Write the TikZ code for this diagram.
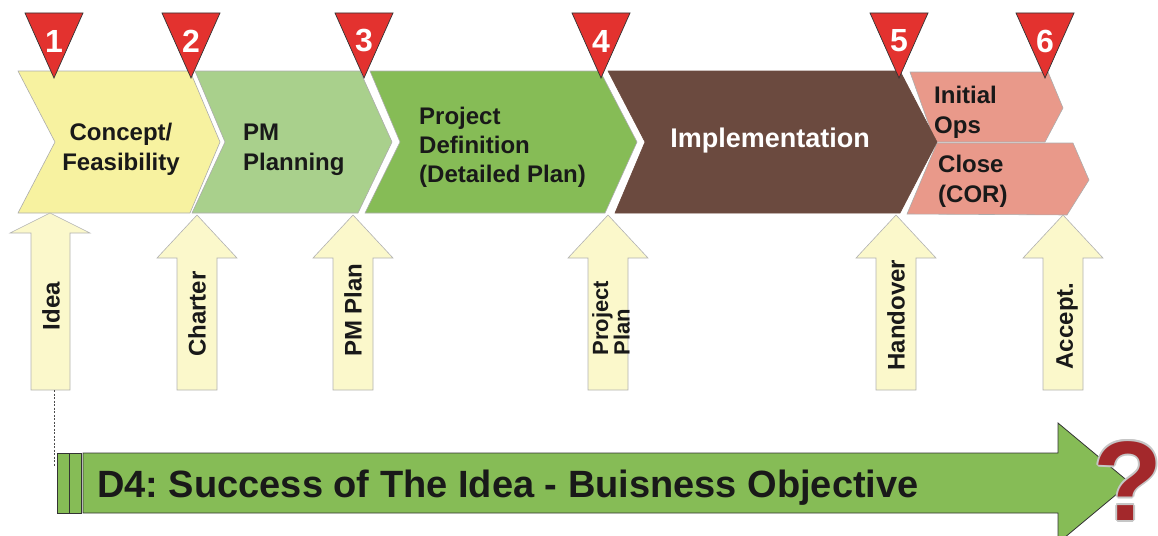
\documentclass[tikz,border=0pt]{standalone}
\usepackage{fontspec}
\setmainfont{Liberation Sans}
\frenchspacing
\definecolor{cyel}{HTML}{F7F2A0}
\definecolor{clgreen}{HTML}{A9D08C}
\definecolor{cgreen}{HTML}{86BC56}
\definecolor{cbrown}{HTML}{6B4A3F}
\definecolor{cpink}{HTML}{E9998A}
\definecolor{tred}{HTML}{E3322F}
\definecolor{ayel}{HTML}{FBF8CB}
\definecolor{qred}{HTML}{A3282B}
\begin{document}
\begin{tikzpicture}[x=1pt,y=-1pt,
  chev/.style={draw=gray!65, line width=0.6pt},
  tri/.style={fill=tred, draw=black!80, line width=0.7pt},
  num/.style={text=white, font=\fontsize{32}{32}\selectfont\bfseries, inner sep=0},
  lbl/.style={font=\fontsize{24}{30}\selectfont\bfseries, inner sep=0, align=left, text=black!90},
  uparrow/.style={fill=ayel, draw=gray!60, line width=0.6pt},
  vlbl/.style={font=\fontsize{24}{24}\selectfont\bfseries, inner sep=0, rotate=90, text=black!90},
  barrow/.style={fill=cgreen, draw=black!80, line width=0.8pt}]
\useasboundingbox (0,0) rectangle (1158,535);
% chevrons
\draw[chev, fill=cpink] (910,72) -- (1048,72) -- (1063,108) -- (1045,142) -- (935,142) -- cycle;
\draw[chev, fill=cpink] (937,143) -- (1073,143) -- (1089,180) -- (1067,215) -- (907,214) -- cycle;
\draw[chev, fill=cyel] (18,71) -- (190,71) -- (220,142) -- (190,213) -- (18,213) -- (55,142) -- cycle;
\draw[chev, fill=clgreen] (195,71) -- (360,71) -- (392,142) -- (358,213) -- (192,213) -- (225,142) -- cycle;
\draw[chev, fill=cgreen] (370,71) -- (600,71) -- (637,142) -- (605,213) -- (365,213) -- (400,142) -- cycle;
\draw[chev, fill=cbrown, draw=cbrown] (608,71) -- (900,71) -- (937,142) -- (900,213) -- (615,213) -- (645,142) -- cycle;
% chevron labels
\node[lbl, align=center] (concept) at (121,149) {Concept/\\Feasibility};
\node[lbl, anchor=west] (pmplan) at (243,150) {PM\\Planning};
\node[lbl, anchor=west, font=\fontsize{24}{29}\selectfont\bfseries] (projdef) at (419,147) {Project\\Definition\\(Detailed Plan)};
\node[lbl, anchor=base, text=white, font=\fontsize{27}{30}\selectfont\bfseries] (impl) at (770,147) {Implementation};
\node[lbl, anchor=west] (initops) at (934,112) {Initial\\Ops};
\node[lbl, anchor=west] (close) at (938,181) {Close\\(COR)};
% triangles
\foreach \x/\n in {54/1,191/2,364/3,601/4,899/5,1045/6}{
  \draw[tri] (\x-29,13) -- (\x+29,13) -- (\x,78) -- cycle;
  \node[num] (t\n) at (\x,41) {\n};
}
% up arrows
\draw[uparrow] (50,213) -- (90,233) -- (70,233) -- (70,390) -- (31,390) -- (31,233) -- (10,233) -- cycle;
\foreach \x in {197,353,608,896,1063}{
  \draw[uparrow] (\x,215) -- (\x+40,258) -- (\x+20,258) -- (\x+20,390) -- (\x-20,390) -- (\x-20,258) -- (\x-40,258) -- cycle;
}
\node[vlbl] (idea) at (51,306) {Idea};
\node[vlbl] (charter) at (197,314) {Charter};
\node[vlbl] (pmp) at (353,310) {PM Plan};
\node[vlbl, align=left, font=\fontsize{22}{19}\selectfont\bfseries] (pp) at (611,318) {Project\\Plan};
\node[vlbl] (hand) at (896,315) {Handover};
\node[vlbl] (acc) at (1067,326) {Accept.};
% bottom arrow
\coordinate (ideabot) at (54,390);
\coordinate (dend) at (54,467);
\draw[black!70, line width=0.7pt, dash pattern=on 2pt off 1.5pt] (ideabot) -- (dend);
\draw[barrow] (57,453) rectangle (81,513);
\draw[black!80, line width=0.8pt] (69,453) -- (69,513);
\draw[barrow] (83,453) -- (1058,453) -- (1058,423) -- (1130,483) -- (1058,543) -- (1058,513) -- (83,513) -- cycle;
\node[anchor=base west, inner sep=0, font=\fontsize{38}{38}\selectfont\bfseries, text=black!90] (d4) at (97,497) {D4: Success of The Idea - Buisness Objective};
% question mark
\foreach \dx/\dy in {2/0,-2/0,0/2,0/-2,1.4/1.4,-1.4/1.4,1.4/-1.4,-1.4/-1.4}{
  \node[anchor=base, inner sep=0, font=\fontsize{113}{113}\selectfont\bfseries, text=gray!45] at (1128+\dx,520+\dy) {?};
}
\node[anchor=base, inner sep=0, font=\fontsize{113}{113}\selectfont\bfseries, text=qred] (q) at (1128,520) {?};
\end{tikzpicture}
\end{document}
